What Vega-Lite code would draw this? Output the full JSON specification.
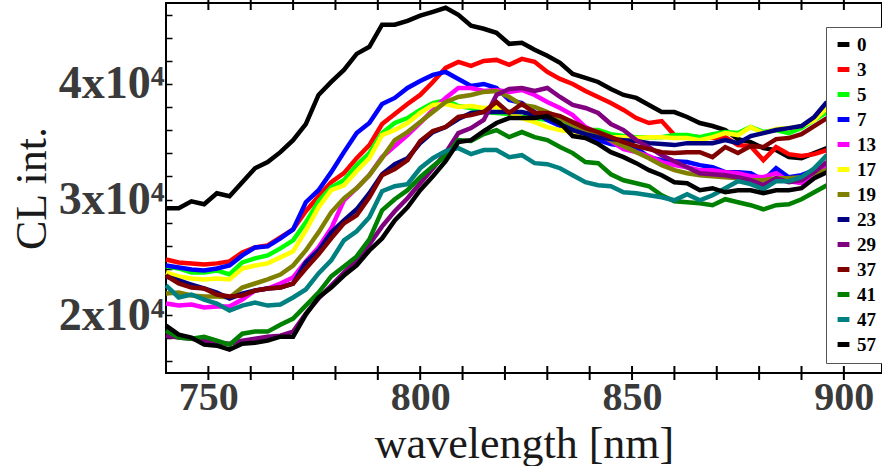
{
  "$schema": "https://vega.github.io/schema/vega-lite/v6.json",
  "width": 716,
  "height": 370,
  "autosize": {"type": "none"},
  "padding": {"left": 166, "top": 3, "right": 0, "bottom": 93},
  "background": "white",
  "config": {
    "view": {"stroke": "black", "strokeWidth": 2},
    "font": "Liberation Serif",
    "axis": {"domain": false, "grid": false, "tickColor": "black", "tickWidth": 1.5}
  },
  "datasets": {
    "xticks": [{"t":750},{"t":760},{"t":770},{"t":780},{"t":790},{"t":800},{"t":810},{"t":820},{"t":830},{"t":840},{"t":850},{"t":860},{"t":870},{"t":880},{"t":890},{"t":900}]
  },
  "data": {"values": [
    {"w":740,"0":29250,"3":24820,"5":24220,"7":24300,"13":21010,"17":23690,"19":21870,"23":23350,"29":18230,"37":23430,"41":18660,"47":22570,"57":19100},
    {"w":743,"0":29250,"3":24560,"5":24040,"7":24130,"13":20830,"17":23350,"19":21960,"23":23000,"29":18060,"37":22740,"41":18060,"47":21530,"57":18320},
    {"w":746,"0":29850,"3":24480,"5":23690,"7":23960,"13":20920,"17":23170,"19":21700,"23":22650,"29":17970,"37":22390,"41":17970,"47":21790,"57":18060},
    {"w":749,"0":29590,"3":24390,"5":23690,"7":23870,"13":20660,"17":23090,"19":21610,"23":22310,"29":17800,"37":22310,"41":18140,"47":21350,"57":17450},
    {"w":752,"0":30550,"3":24480,"5":23870,"7":24040,"13":20750,"17":23170,"19":21610,"23":21960,"29":17620,"37":21790,"41":17800,"47":21010,"57":17360},
    {"w":755,"0":30290,"3":24650,"5":23520,"7":24300,"13":20750,"17":23090,"19":21530,"23":21440,"29":17540,"37":21610,"41":17450,"47":20400,"57":17020},
    {"w":758,"0":31500,"3":25430,"5":24560,"7":25170,"13":21350,"17":24040,"19":22390,"23":21870,"29":17800,"37":21700,"41":18400,"47":20830,"57":17540},
    {"w":761,"0":32710,"3":25860,"5":24910,"7":25860,"13":22130,"17":24300,"19":22740,"23":22130,"29":17970,"37":22130,"41":18580,"47":21090,"57":17620},
    {"w":764,"0":33240,"3":26040,"5":25170,"7":25950,"13":22310,"17":24480,"19":23090,"23":22310,"29":18140,"37":22310,"41":18580,"47":20830,"57":17800},
    {"w":767,"0":34100,"3":26730,"5":25780,"7":26640,"13":22740,"17":25000,"19":23520,"23":22390,"29":18230,"37":22390,"41":19180,"47":20920,"57":18140},
    {"w":770,"0":35140,"3":27420,"5":26470,"7":27420,"13":23260,"17":25520,"19":24300,"23":22740,"29":18580,"37":22740,"41":19710,"47":21530,"57":18140},
    {"w":773,"0":36530,"3":28990,"5":28030,"7":29770,"13":24650,"17":27340,"19":25600,"23":24560,"29":20140,"37":24040,"41":20830,"47":22220,"57":20050},
    {"w":776,"0":39050,"3":30290,"5":29850,"7":30810,"13":25860,"17":29330,"19":27160,"23":25600,"29":21440,"37":25260,"41":21960,"47":23610,"57":21530},
    {"w":779,"0":40170,"3":31500,"5":31070,"7":32370,"13":27510,"17":30810,"19":28900,"23":27160,"29":22570,"37":26640,"41":23350,"47":24740,"57":22390},
    {"w":782,"0":41210,"3":32280,"5":31670,"7":34100,"13":29940,"17":31240,"19":30110,"23":28200,"29":23690,"37":27940,"41":24220,"47":26470,"57":23430},
    {"w":785,"0":42600,"3":33580,"5":32980,"7":35750,"13":30980,"17":32450,"19":30980,"23":29160,"29":24740,"37":28640,"41":25080,"47":27250,"57":24300},
    {"w":788,"0":43210,"3":34710,"5":34020,"7":36620,"13":32110,"17":33580,"19":32110,"23":30550,"29":26120,"37":30200,"41":26560,"47":28470,"57":25600},
    {"w":791,"0":45120,"3":36530,"5":35750,"7":38270,"13":33670,"17":35580,"19":33580,"23":32190,"29":27680,"37":32110,"41":29070,"47":30720,"57":26640},
    {"w":794,"0":45120,"3":37400,"5":36620,"7":38790,"13":34620,"17":36010,"19":35140,"23":33060,"29":28990,"37":32630,"41":30030,"47":31150,"57":28200},
    {"w":797,"0":45460,"3":38270,"5":37050,"7":39650,"13":35580,"17":36620,"19":35840,"23":33580,"29":30110,"37":33410,"41":30810,"47":31330,"57":29330},
    {"w":800,"0":45900,"3":39050,"5":37750,"7":40260,"13":36620,"17":37490,"19":36700,"23":34880,"29":31410,"37":35060,"41":31930,"47":32710,"57":30810},
    {"w":803,"0":46240,"3":40170,"5":38350,"7":40780,"13":37750,"17":38180,"19":37570,"23":35840,"29":32710,"37":35920,"41":32890,"47":33580,"57":32020},
    {"w":806,"0":46590,"3":41390,"5":38610,"7":41040,"13":38790,"17":38270,"19":38440,"23":36270,"29":34020,"37":36270,"41":33760,"47":34190,"57":33320},
    {"w":809,"0":45980,"3":41910,"5":38090,"7":40430,"13":39650,"17":38010,"19":38870,"23":36960,"29":35750,"37":37140,"41":35140,"47":34450,"57":34970},
    {"w":812,"0":45030,"3":41560,"5":37920,"7":39830,"13":39650,"17":38090,"19":39050,"23":37490,"29":36180,"37":37310,"41":35060,"47":33930,"57":35140},
    {"w":815,"0":44770,"3":41990,"5":37570,"7":40000,"13":39390,"17":37920,"19":39310,"23":37570,"29":36880,"37":37570,"41":35660,"47":34280,"57":35920},
    {"w":818,"0":44420,"3":42080,"5":37490,"7":39650,"13":39480,"17":38010,"19":39390,"23":37570,"29":39050,"37":38440,"41":36010,"47":34280,"57":36620},
    {"w":821,"0":43470,"3":41650,"5":37400,"7":38610,"13":39310,"17":37570,"19":38870,"23":37570,"29":39570,"37":37490,"41":35400,"47":33670,"57":37050},
    {"w":824,"0":43560,"3":42170,"5":37140,"7":38350,"13":39480,"17":37050,"19":38180,"23":37570,"29":39650,"37":38270,"41":35840,"47":33840,"57":37050},
    {"w":827,"0":42950,"3":41910,"5":37050,"7":37570,"13":39050,"17":36700,"19":38010,"23":37310,"29":39390,"37":37490,"41":35400,"47":33150,"57":37050},
    {"w":830,"0":42430,"3":41040,"5":36880,"7":36880,"13":38440,"17":36270,"19":37570,"23":37050,"29":39650,"37":37490,"41":35140,"47":33060,"57":37220},
    {"w":833,"0":41820,"3":40430,"5":36530,"7":36360,"13":37920,"17":36010,"19":37050,"23":36530,"29":38870,"37":37220,"41":34540,"47":32710,"57":36620},
    {"w":836,"0":40870,"3":40000,"5":36270,"7":36010,"13":37310,"17":35840,"19":36440,"23":36010,"29":38180,"37":36700,"41":34020,"47":32110,"57":35490},
    {"w":839,"0":40520,"3":39390,"5":36010,"7":35660,"13":36270,"17":35660,"19":36010,"23":35660,"29":37920,"37":36180,"41":33240,"47":31500,"57":35320},
    {"w":842,"0":40170,"3":38870,"5":36010,"7":35140,"13":35750,"17":35490,"19":35580,"23":35400,"29":37490,"37":35840,"41":33150,"47":31240,"57":34800},
    {"w":845,"0":39570,"3":38350,"5":35660,"7":34800,"13":35060,"17":35400,"19":35140,"23":35230,"29":36530,"37":35400,"41":32190,"47":31150,"57":34100},
    {"w":848,"0":39050,"3":37750,"5":35490,"7":34620,"13":34360,"17":35400,"19":34620,"23":35140,"29":36010,"37":34970,"41":31670,"47":30630,"57":33670},
    {"w":851,"0":38790,"3":37050,"5":35400,"7":34450,"13":34100,"17":35320,"19":34100,"23":35060,"29":35140,"37":34620,"41":31410,"47":30550,"57":33150},
    {"w":854,"0":38180,"3":36620,"5":35400,"7":33670,"13":33760,"17":35400,"19":33580,"23":34880,"29":34540,"37":34360,"41":31150,"47":30370,"57":32540},
    {"w":857,"0":37570,"3":36790,"5":35400,"7":33410,"13":33240,"17":35400,"19":32980,"23":34800,"29":33840,"37":34100,"41":30370,"47":30200,"57":32110},
    {"w":860,"0":37570,"3":35580,"5":35580,"7":33320,"13":32980,"17":35320,"19":32540,"23":34710,"29":33320,"37":34020,"41":29850,"47":29940,"57":31500},
    {"w":863,"0":37140,"3":35490,"5":35580,"7":33240,"13":32800,"17":35320,"19":32280,"23":34880,"29":32800,"37":34100,"41":29770,"47":30460,"57":31410},
    {"w":866,"0":36620,"3":35400,"5":35400,"7":32980,"13":32540,"17":35140,"19":32110,"23":34880,"29":32280,"37":34100,"41":29680,"47":29940,"57":30810},
    {"w":869,"0":36360,"3":35320,"5":35660,"7":32800,"13":32540,"17":35400,"19":32020,"23":34880,"29":32190,"37":33670,"41":29510,"47":30370,"57":30980},
    {"w":872,"0":36010,"3":35400,"5":35840,"7":32370,"13":32370,"17":35750,"19":31930,"23":35140,"29":32110,"37":34540,"41":30030,"47":30980,"57":30630},
    {"w":875,"0":35230,"3":34710,"5":35750,"7":32370,"13":32280,"17":35580,"19":31850,"23":34880,"29":31930,"37":34020,"41":29770,"47":31590,"57":30810},
    {"w":878,"0":34970,"3":34620,"5":36270,"7":32280,"13":32020,"17":36270,"19":31670,"23":35490,"29":31670,"37":34620,"41":29510,"47":31330,"57":30810},
    {"w":881,"0":34450,"3":33410,"5":35840,"7":31670,"13":31930,"17":35750,"19":31670,"23":35750,"29":31240,"37":34540,"41":29160,"47":30890,"57":30550},
    {"w":884,"0":34280,"3":34540,"5":36010,"7":32710,"13":32280,"17":36100,"19":31850,"23":36010,"29":31850,"37":35230,"41":29510,"47":31590,"57":30810},
    {"w":887,"0":33670,"3":33930,"5":35750,"7":31930,"13":31590,"17":36180,"19":31850,"23":36180,"29":31500,"37":35320,"41":29590,"47":31590,"57":30810},
    {"w":890,"0":33580,"3":33760,"5":36180,"7":32110,"13":31410,"17":36360,"19":31930,"23":36360,"29":31670,"37":35660,"41":30030,"47":31930,"57":30980},
    {"w":893,"0":34020,"3":33930,"5":36880,"7":32540,"13":31850,"17":36880,"19":32280,"23":37140,"29":32370,"37":36360,"41":30630,"47":32710,"57":31850},
    {"w":896,"0":34450,"3":34280,"5":37570,"7":32710,"13":33060,"17":37920,"19":32540,"23":38440,"29":33240,"37":37050,"41":31240,"47":33840,"57":32370}
  ]},
  "layer": [
    {
      "transform": [
        {"fold": ["0","3","5","7","13","17","19","23","29","37","41","47","57"], "as": ["series","cl"]}
      ],
      "mark": {"type": "line", "strokeWidth": 4.5},
      "encoding": {
        "x": {
          "field": "w", "type": "quantitative",
          "scale": {"domain": [740, 909], "nice": false, "zero": false},
          "axis": {
            "orient": "bottom",
            "values": [750,760,770,780,790,800,810,820,830,840,850,860,870,880,890,900],
            "ticks": false,
            "labelExpr": "datum.value % 50 === 0 ? datum.label : ''",
            "labelOverlap": false,
            "labelFont": "Liberation Serif", "labelFontWeight": "bold", "labelFontSize": 40,
            "labelColor": "#3a3a3a", "labelPadding": 4,
            "title": "wavelength [nm]",
            "titleFont": "Liberation Serif", "titleFontWeight": "normal", "titleFontSize": 44,
            "titleColor": "#1a1a1a", "titlePadding": 5
          }
        },
        "y": {
          "field": "cl", "type": "quantitative",
          "scale": {"domain": [15000, 47000], "nice": false, "zero": false},
          "axis": {
            "orient": "left",
            "values": [16000,18000,20000,22000,24000,26000,28000,30000,32000,34000,36000,38000,40000,42000,44000,46000],
            "tickSize": -6,
            "labelExpr": "datum.value % 10000 === 0 ? (datum.value / 10000) + 'x10⁴' : ''",
            "labelOverlap": false,
            "labelFont": "Liberation Serif", "labelFontWeight": "bold", "labelFontSize": 46,
            "labelColor": "#3a3a3a", "labelPadding": 8,
            "title": "CL int.",
            "titleFont": "Liberation Serif", "titleFontWeight": "normal", "titleFontSize": 44,
            "titleColor": "#1a1a1a", "titlePadding": 4
          }
        },
        "color": {
          "field": "series", "type": "nominal",
          "scale": {
            "domain": ["0","3","5","7","13","17","19","23","29","37","41","47","57"],
            "range": ["#000000","#ff0000","#00ff00","#0000ff","#ff00ff","#ffff00","#808000","#000080","#800080","#800000","#008000","#008080","#000000"]
          },
          "legend": {
            "orient": "none", "legendX": 660, "legendY": 24,
            "title": null,
            "symbolType": "stroke", "symbolStrokeWidth": 5, "symbolSize": 140,
            "labelFont": "Liberation Serif", "labelFontWeight": "bold", "labelFontSize": 19,
            "labelColor": "black", "labelOffset": 4,
            "rowPadding": 4, "padding": 8,
            "strokeColor": "#555555", "fillColor": "white"
          }
        }
      }
    },
    {
      "data": {"name": "xticks"},
      "mark": {"type": "tick", "orient": "vertical", "color": "black", "thickness": 2, "size": 14, "opacity": 1},
      "encoding": {
        "x": {"field": "t", "type": "quantitative", "axis": null},
        "y": {"datum": 15000, "type": "quantitative", "axis": null}
      }
    },
    {
      "data": {"name": "xticks"},
      "mark": {"type": "tick", "orient": "vertical", "color": "black", "thickness": 2, "size": 14, "opacity": 1},
      "encoding": {
        "x": {"field": "t", "type": "quantitative", "axis": null},
        "y": {"datum": 47000, "type": "quantitative", "axis": null}
      }
    }
  ],
  "resolve": {"axis": {"x": "independent", "y": "independent"}}
}
